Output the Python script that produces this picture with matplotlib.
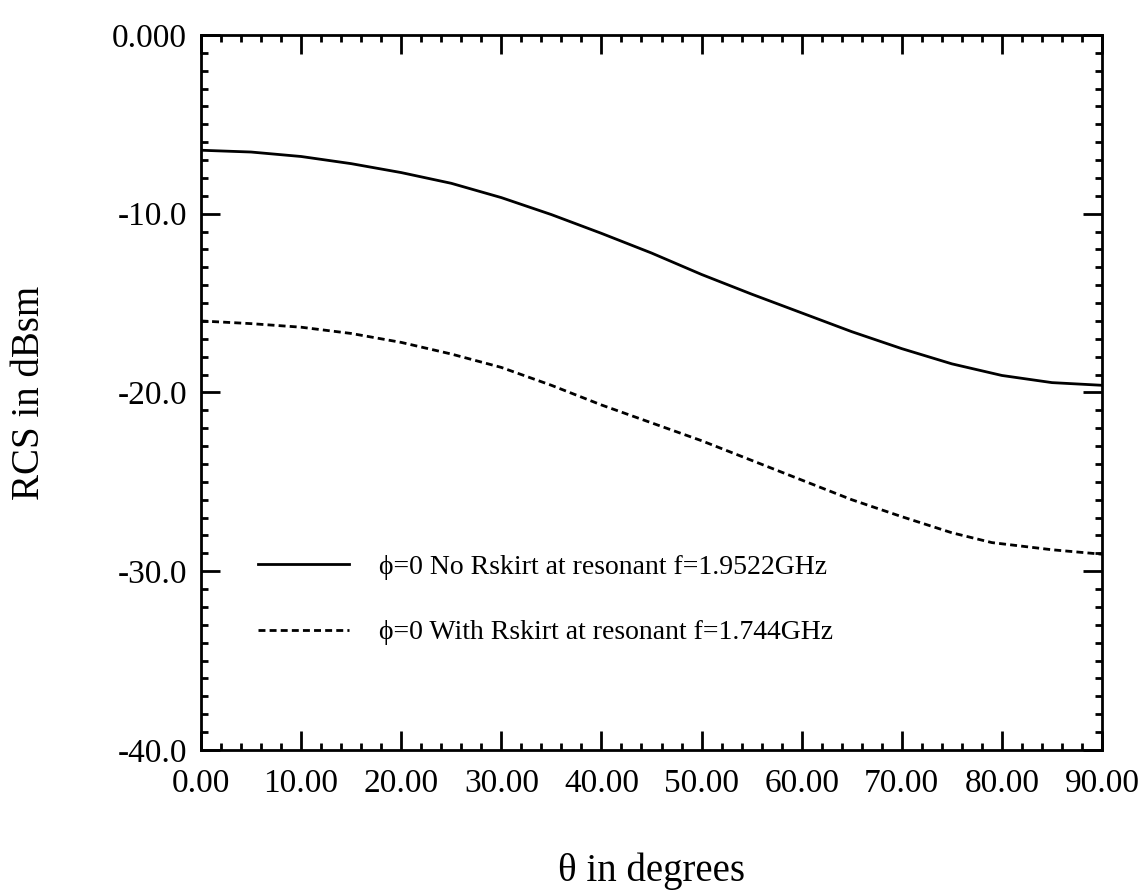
import matplotlib
matplotlib.use("Agg")
import matplotlib.pyplot as plt
from matplotlib.ticker import MultipleLocator, FixedLocator, FixedFormatter

plt.rcParams['font.family'] = ['Liberation Serif', 'DejaVu Serif']

# ===== DONNEES =====
theta_no = [0, 5, 10, 15, 20, 25, 30, 35, 40, 45, 50, 55, 60, 65, 70, 75, 80, 85, 90]
rcs_no = [-6.45, -6.55, -6.8, -7.2, -7.7, -8.3, -9.1, -10.05, -11.1, -12.2,
          -13.4, -14.5, -15.55, -16.6, -17.55, -18.4, -19.05, -19.45, -19.6]

theta_with = [0, 5, 10, 15, 20, 25, 30, 35, 40, 45, 50, 55, 60, 65, 70, 75, 79, 85, 90]
rcs_with = [-16.0, -16.15, -16.35, -16.7, -17.2, -17.85, -18.6, -19.6, -20.7, -21.7,
            -22.7, -23.8, -24.9, -26.0, -26.95, -27.85, -28.4, -28.8, -29.05]

label_no = "\u03d5=0 No Rskirt at resonant f=1.9522GHz"
label_with = "\u03d5=0 With Rskirt at resonant f=1.744GHz"

xticks = [0, 10, 20, 30, 40, 50, 60, 70, 80, 90]
xticklabels = ["0.00", "10.00", "20.00", "30.00", "40.00", "50.00",
               "60.00", "70.00", "80.00", "90.00"]
yticks = [0, -10, -20, -30, -40]
yticklabels = ["0.000", "-10.0", "-20.0", "-30.0", "-40.0"]

# ===== FIGURE =====
fig = plt.figure(figsize=(11.4, 8.96), dpi=100)
ax = fig.add_axes([0.1763, 0.163, 0.7904, 0.798])

ax.plot(theta_no, rcs_no, color='black', lw=2.0, label=label_no)
ax.plot(theta_with, rcs_with, color='black', lw=2.0, dashes=(2.5, 1.5), label=label_with)

ax.set_xlim(0, 90)
ax.set_ylim(-40, 0)

ax.xaxis.set_major_locator(FixedLocator(xticks))
ax.xaxis.set_major_formatter(FixedFormatter(xticklabels))
ax.xaxis.set_minor_locator(MultipleLocator(2))
ax.yaxis.set_major_locator(FixedLocator(yticks))
ax.yaxis.set_major_formatter(FixedFormatter(yticklabels))
ax.yaxis.set_minor_locator(MultipleLocator(1))

ax.tick_params(which='both', direction='in', top=True, right=True, width=2.0, color='black')
ax.tick_params(which='major', length=14)
ax.tick_params(which='minor', length=5)
ax.tick_params(axis='y', which='major', labelsize=24, pad=10)
ax.tick_params(axis='x', which='major', labelsize=24, pad=13)

for sp in ax.spines.values():
    sp.set_linewidth(2.0)

ax.set_xlabel("\u03b8 in degrees", fontsize=28, labelpad=39)
ax.set_ylabel("RCS in dBsm", fontsize=28, labelpad=46)

ax.legend(loc='center left', bbox_to_anchor=(0.063, 0.21), frameon=False,
          fontsize=20, handlelength=3.3, handletextpad=1.05, labelspacing=1.45,
          borderpad=0, borderaxespad=0)

plt.savefig("out.png", dpi=100)
